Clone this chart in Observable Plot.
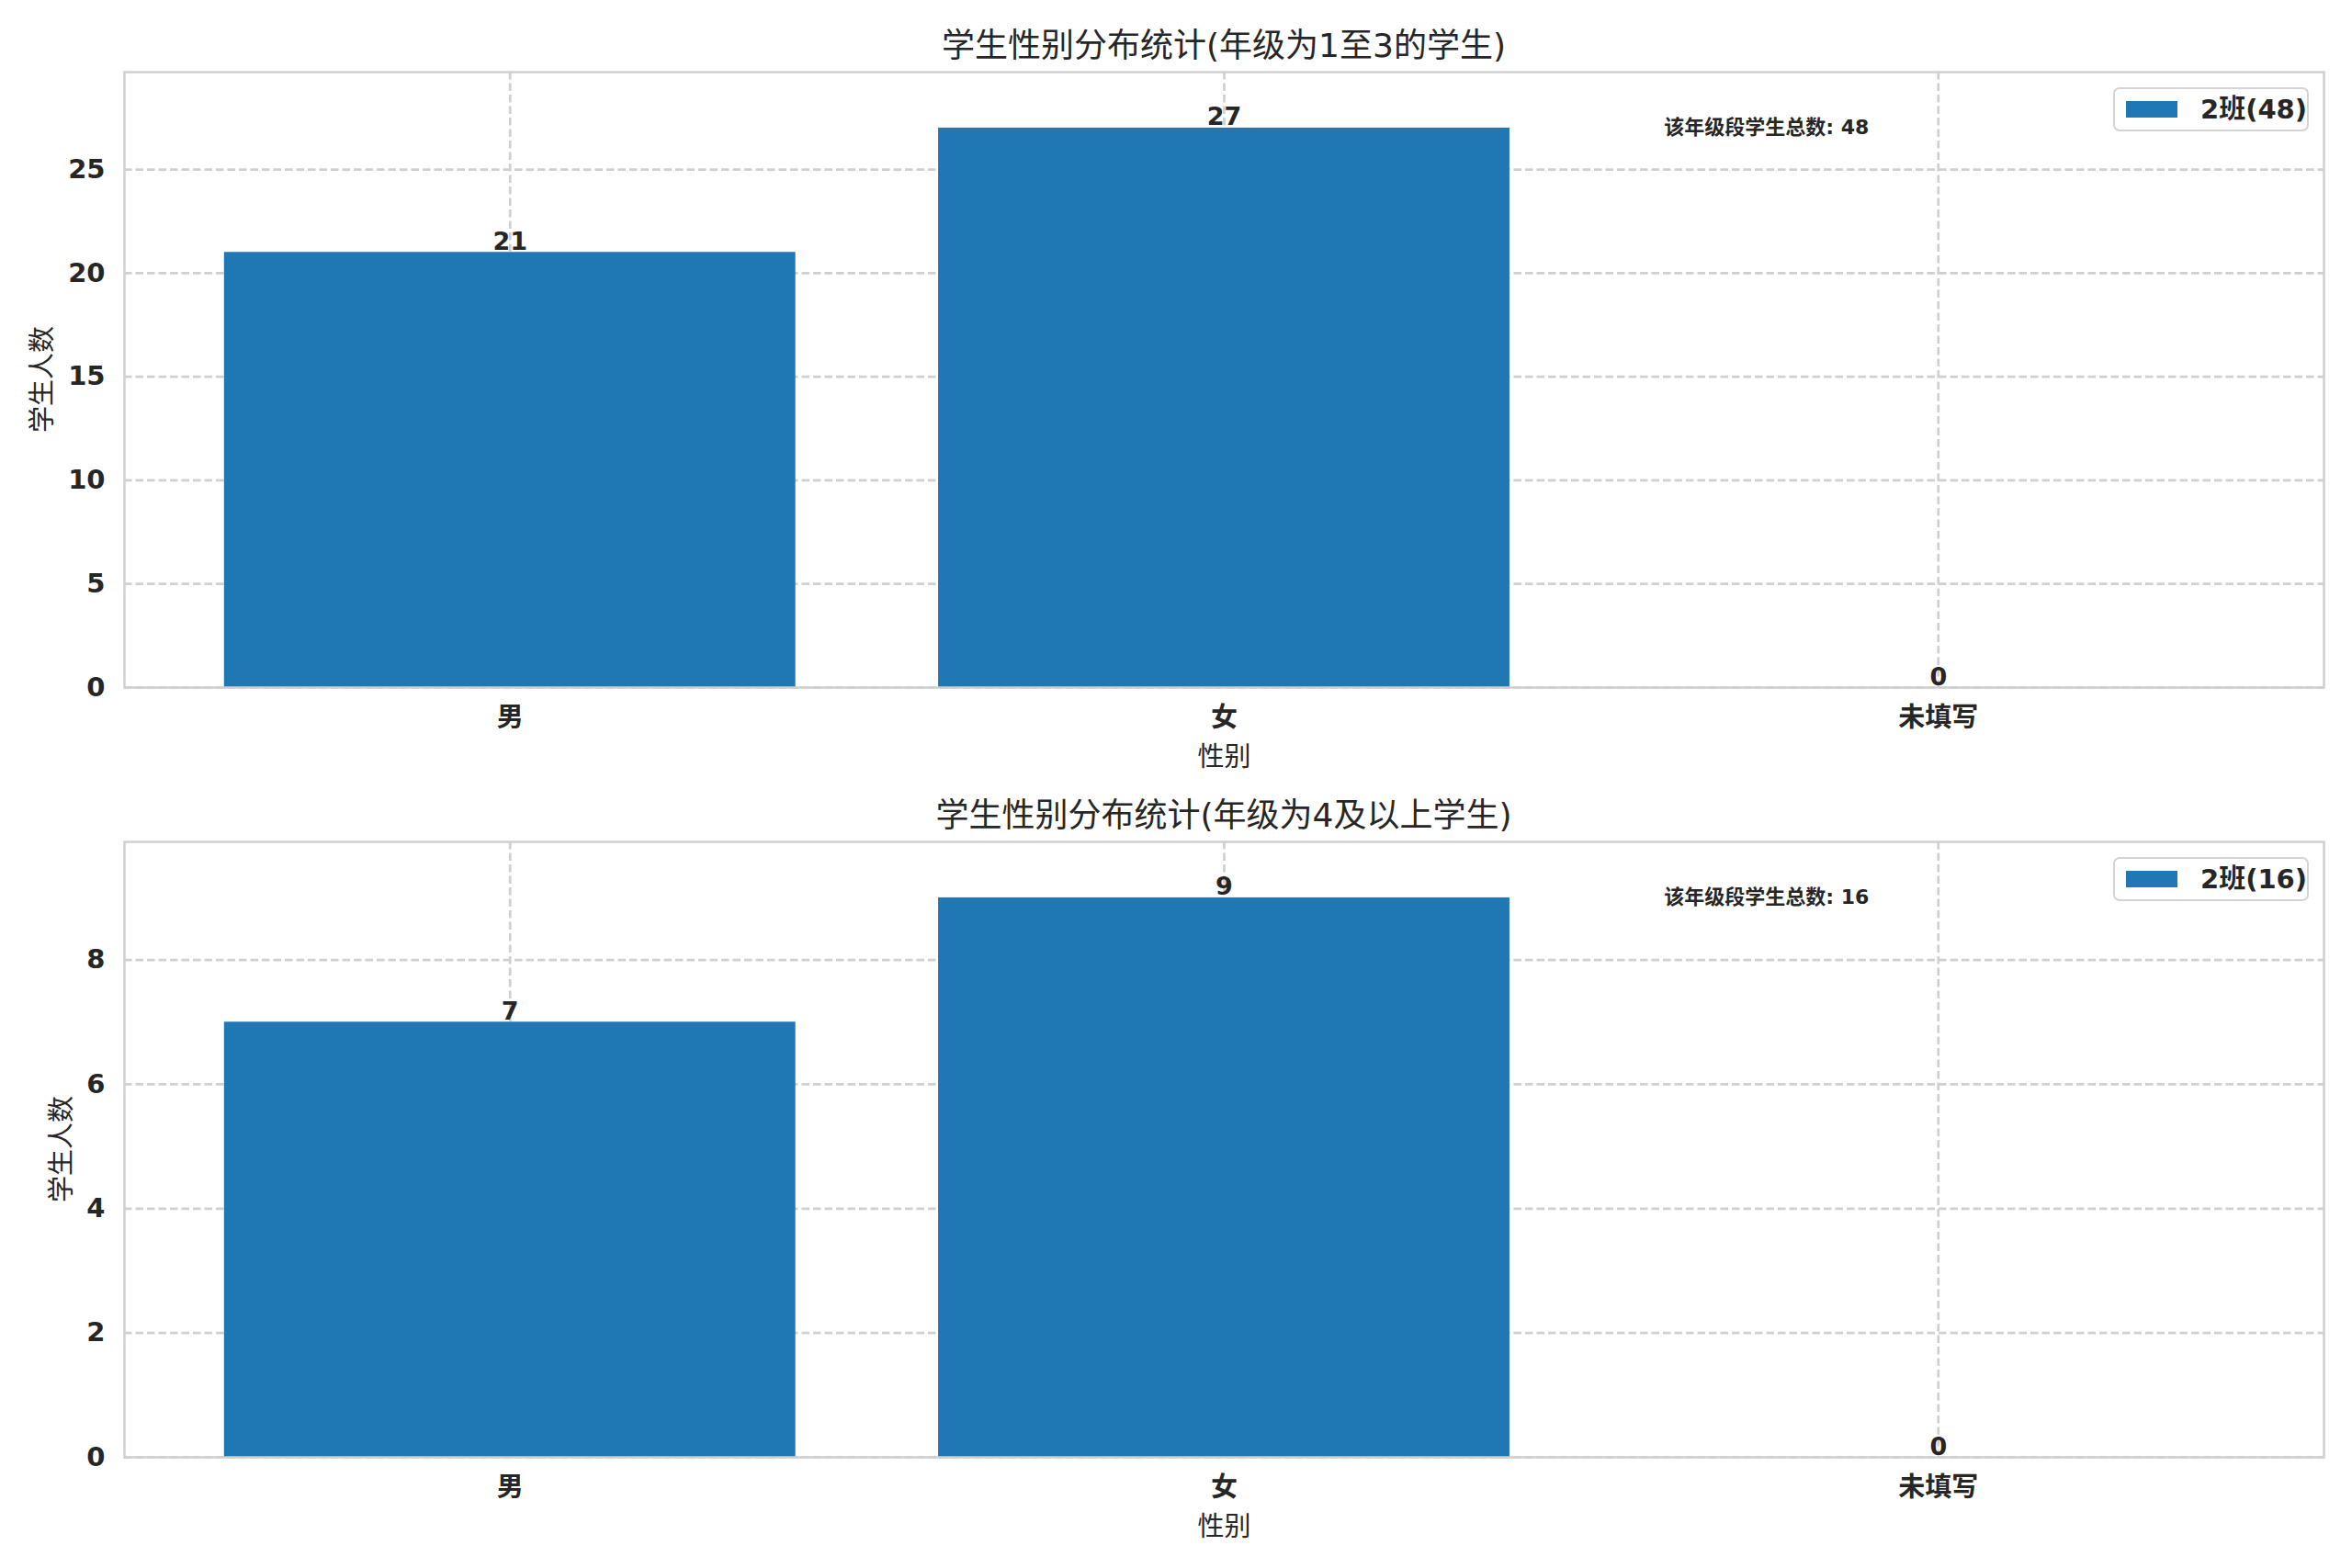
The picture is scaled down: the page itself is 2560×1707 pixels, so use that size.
<!DOCTYPE html>
<html>
<head>
<meta charset="utf-8">
<script src="https://cdn.jsdelivr.net/npm/d3@7"></script>
<script src="https://cdn.jsdelivr.net/npm/@observablehq/plot@0.6"></script>
<style>
  html, body { margin: 0; padding: 0; background: #ffffff; }
  #root { position: relative; width: 2560px; height: 1707px; background: #ffffff;
          font-family: "DejaVu Sans", "Noto Sans CJK SC", sans-serif; color: #262626; }
  .panel { position: relative; width: 2560px; height: 838px; }
  .title { position: absolute; left: 135px; width: 2394px; top: 30px; line-height: 40px;
           text-align: center; font-size: 36px; color: #262626; white-space: nowrap; }
  .ylab { position: absolute; top: 413px; font-size: 29px; color: #262626; white-space: nowrap;
          transform: translate(-50%, -50%) rotate(-90deg); line-height: 34px; }
  .legend { position: absolute; left: 2300px; top: 95px; width: 213px; height: 48px;
            border: 2px solid #d4d4d4; border-radius: 7px; background: rgba(255,255,255,0.85);
            box-sizing: border-box; }
  .legend .sw { position: absolute; left: 12px; top: 13px; width: 56px; height: 18px; background: #1f77b4; }
  .legend .lt { position: absolute; left: 93px; top: 0; line-height: 44px; font-size: 29px; font-weight: bold;
                color: #262626; white-space: nowrap; }
  svg { position: absolute; left: 0; top: 0; }
</style>
</head>
<body>
<div id="root"></div>
<script>
// ---- data ----
const categories = ["男", "女", "未填写"];
const countsLower = [21, 27, 0];
const countsUpper = [7, 9, 0];
const titles = ["学生性别分布统计(年级为1至3的学生)", "学生性别分布统计(年级为4及以上学生)"];
const yTicksLower = [0, 5, 10, 15, 20, 25];
const yTicksUpper = [0, 2, 4, 6, 8];
const legendClass = "2班";
const xLabel = "性别";
const yLabel = "学生人数";
const totalLabel = "该年级段学生总数";

const FONT = '"DejaVu Sans", "Noto Sans CJK SC", sans-serif';
const BAR = "#1f77b4";
const GRID = "#cfcfcf";

function panel(title, counts, yTicks, yLabelX) {
  const n = categories.length;
  const data = categories.map((c, i) => ({i, c, v: counts[i]}));
  const total = d3.sum(counts);
  const maxV = d3.max(counts);
  const xDomain = [-0.4 - 0.14, n - 1 + 0.4 + 0.14];
  const annX = xDomain[0] + 0.7 * (xDomain[1] - xDomain[0]);

  const wrap = document.createElement("div");
  wrap.className = "panel";

  const gridStyle = {stroke: GRID, strokeOpacity: 1, strokeWidth: 2.7, strokeDasharray: "8.5,4"};

  const svg = Plot.plot({
    width: 2560,
    height: 838,
    marginLeft: 135,
    marginRight: 31,
    marginTop: 78,
    marginBottom: 90,
    style: {fontFamily: FONT, color: "#262626", background: "transparent", overflow: "visible"},
    x: {type: "linear", domain: xDomain},
    y: {domain: [0, maxV * 1.1]},
    marks: [
      Plot.gridY(yTicks, gridStyle),
      Plot.gridX(data.map(d => d.i), gridStyle),
      Plot.rectY(data, {x1: d => d.i - 0.4, x2: d => d.i + 0.4, y1: 0, y2: "v", fill: BAR}),
      Plot.text(data, {x: "i", y: "v", text: d => String(d.v), lineAnchor: "bottom", dy: -3,
                       fontSize: 27, fontWeight: "bold", fill: "#262626"}),
      Plot.text([`${totalLabel}: ${total}`], {x: annX, y: maxV, textAnchor: "start", lineAnchor: "middle",
                       fontSize: 22, fontWeight: "bold", fill: "#262626"}),
      Plot.axisY(yTicks, {tickSize: 0, tickPadding: 21, tickFormat: d => String(d), fontSize: 29,
                       fontWeight: "bold", label: null}),
      Plot.axisX(data.map(d => d.i), {tickFormat: i => categories[i], tickSize: 0, tickPadding: 22,
                       fontSize: 29, fontWeight: "bold", label: null}),
      Plot.text([xLabel], {frameAnchor: "bottom", dy: 76, lineAnchor: "middle", fontSize: 29, fill: "#262626"}),
      Plot.frame({stroke: GRID, strokeWidth: 2.5})
    ]
  });
  wrap.appendChild(svg);

  const t = document.createElement("div");
  t.className = "title";
  t.textContent = title;
  wrap.appendChild(t);

  const yl = document.createElement("div");
  yl.className = "ylab";
  yl.style.left = yLabelX + "px";
  yl.textContent = yLabel;
  wrap.appendChild(yl);

  const lg = document.createElement("div");
  lg.className = "legend";
  const sw = document.createElement("div"); sw.className = "sw";
  const lt = document.createElement("div"); lt.className = "lt";
  lt.textContent = `${legendClass}(${total})`;
  lg.appendChild(sw); lg.appendChild(lt);
  wrap.appendChild(lg);
  return wrap;
}

const root = document.getElementById("root");
root.appendChild(panel(titles[0], countsLower, yTicksLower, 46));
root.appendChild(panel(titles[1], countsUpper, yTicksUpper, 67));
</script>
</body>
</html>
